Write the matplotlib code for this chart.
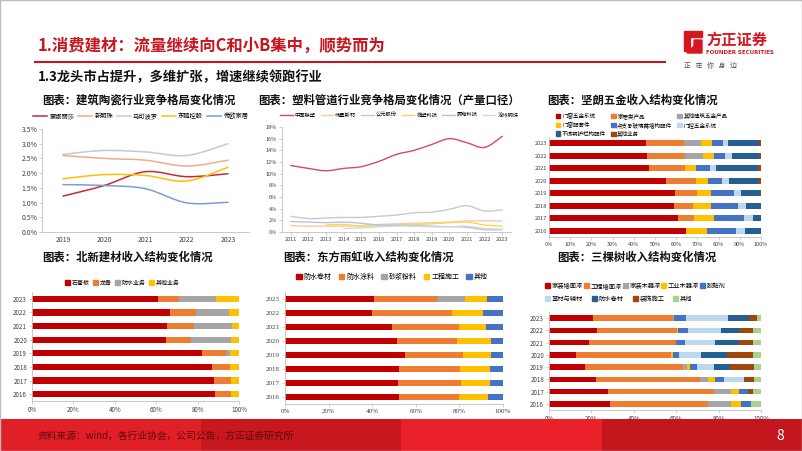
import matplotlib
matplotlib.use('Agg')
import matplotlib.pyplot as plt
from matplotlib.path import Path
from matplotlib.patches import PathPatch, Rectangle, Polygon
from matplotlib.lines import Line2D
from matplotlib.ticker import FuncFormatter

plt.rcParams['font.family'] = ['Noto Sans CJK SC', 'DejaVu Sans']

W, H = 802, 451

# ---------------- data ----------------
years1 = ['2019', '2020', '2021', '2022', '2023']
names1 = ['蒙娜丽莎', '新明珠', '马可波罗', '东鹏控股', '帝欧家居']
mona = [1.22, 1.58, 2.05, 1.88, 1.98]
xinmingzhu = [2.60, 2.50, 2.44, 2.24, 2.44]
makepolo = [2.64, 2.77, 2.72, 2.60, 3.00]
dongpeng = [1.81, 1.95, 1.92, 1.73, 2.20]
diou = [1.61, 1.58, 1.47, 0.99, 1.01]
colors1 = ['#C8283C', '#F2A98A', '#C9C9C9', '#FFC000', '#7F9CD0']

years2 = ['2011', '2012', '2013', '2014', '2015', '2016', '2017',
          '2018', '2019', '2020', '2021', '2022', '2023']
names2 = ['中国联塑', '伟星新材', '公元股份', '雄塑科技', '顾地科技', '沧州明珠']
liansu = [11.4, 10.9, 10.5, 10.9, 11.2, 12.1, 13.3, 14.0, 15.0, 16.0, 15.3, 14.5, 16.4]
weixing = [1.1, 1.0, 1.0, 1.0, 1.1, 1.3, 1.4, 1.5, 1.6, 1.7, 1.9, 1.9, 1.9]
gongyuan = [2.7, 2.3, 2.4, 2.5, 2.5, 2.7, 2.9, 3.3, 3.4, 3.9, 4.5, 3.6, 3.8]
xiongsu = [None, None, 1.2, 1.3, 1.0, 1.1, 1.2, 1.3, 1.4, 1.6, 1.7, 1.2, 1.0]
gudi = [1.8, 1.7, 1.6, 1.7, 1.5, 1.2, 1.2, 1.1, 1.0, 0.9, 0.8, 0.4, 0.4]
mingzhu = [None, None, None, 0.6, 0.7, 0.9, 1.0, 1.0, 0.9, 0.9, 1.0, 0.6, 0.5]
colors2 = ['#D84A5E', '#F8C9A8', '#C9C9C9', '#FFD54F', '#B4C4E4', '#CFD8E6']

bar_years = ['2016', '2017', '2018', '2019', '2020', '2021', '2022', '2023']

# 坚朗五金
jl_names = ['门窗五金系统', '家居类产品', '其他建筑五金产品', '门窗配套件',
            '点支承玻璃幕墙构配件', '门控五金系统', '不锈钢护栏构配件', '其他业务']
jl_door = [64.4, 60.7, 58.8, 59.3, 55.2, 47.3, 46.4, 45.9]
jl_home = [0.0, 7.6, 9.3, 10.7, 14.2, 16.7, 17.8, 18.0]
jl_other_hw = [0.0, 0.0, 0.0, 0.0, 0.0, 0.0, 8.4, 7.7]
jl_parts = [10.0, 9.6, 8.4, 6.3, 5.4, 5.2, 5.0, 5.2]
jl_glass = [13.8, 14.2, 12.5, 10.8, 6.9, 6.8, 5.5, 5.1]
jl_ctrl = [4.1, 4.1, 3.9, 3.6, 3.3, 2.7, 3.3, 2.3]
jl_rail = [7.7, 3.8, 7.1, 8.7, 13.7, 20.0, 12.7, 14.9]
jl_misc = [0.0, 0.0, 0.0, 0.6, 1.3, 1.3, 0.9, 0.9]

# 北新建材
bn_names = ['石膏板', '龙骨', '防水业务', '其他业务']
bn_gypsum = [88.3, 88.1, 86.8, 82.3, 64.8, 65.0, 66.7, 60.9]
bn_keel = [7.7, 8.2, 8.7, 11.4, 11.9, 13.3, 12.6, 10.3]
bn_water = [0.0, 0.0, 0.0, 1.8, 19.3, 18.3, 15.7, 17.5]
bn_other = [4.0, 3.7, 4.5, 4.5, 4.0, 3.4, 5.0, 11.3]

# 东方雨虹
yh_names = ['防水卷材', '防水涂料', '砂浆粉料', '工程施工', '其他']
yh_roll = [52.5, 51.8, 52.1, 55.0, 51.6, 49.0, 39.8, 40.6]
yh_coat = [27.1, 28.8, 28.3, 26.6, 27.4, 30.8, 36.8, 29.2]
yh_mortar = [0.0, 0.0, 0.0, 0.0, 0.0, 0.0, 0.0, 12.7]
yh_build = [13.7, 13.6, 13.6, 13.0, 15.3, 12.5, 14.1, 10.0]
yh_other = [6.7, 5.8, 6.0, 5.4, 5.7, 7.7, 9.3, 7.5]

# 三棵树
sk_names = ['家装墙面漆', '工程墙面漆', '家装木器漆', '工业木器漆', '胶黏剂',
            '基材与辅材', '防水卷材', '装饰施工', '其他']
sk_home_wall = [28.8, 27.6, 22.0, 17.0, 12.9, 18.9, 22.5, 20.9]
sk_proj_wall = [46.0, 50.0, 49.3, 46.1, 44.7, 40.9, 37.8, 37.8]
sk_home_wood = [11.0, 8.2, 3.8, 1.9, 0.0, 0.0, 0.0, 0.3]
sk_ind_wood = [4.6, 3.6, 3.0, 1.5, 1.0, 0.0, 0.5, 0.0]
sk_glue = [5.0, 4.5, 4.6, 3.3, 2.8, 4.3, 5.0, 5.7]
sk_base = [0.0, 0.0, 9.1, 8.2, 10.4, 14.0, 15.1, 19.7]
sk_roll = [0.0, 0.0, 0.0, 7.5, 12.0, 11.3, 8.9, 9.9]
sk_deco = [0.0, 2.5, 5.1, 11.4, 12.3, 6.7, 6.4, 3.6]
sk_other = [4.6, 3.6, 3.1, 3.1, 3.9, 3.9, 3.8, 2.1]

RED, ORANGE, GRAY, YELLOW = '#C00000', '#ED7D31', '#A5A5A5', '#FFC000'
BLUE, LBLUE, DBLUE, BROWN, GREEN = '#4472C4', '#BDD7EE', '#255E91', '#9E480E', '#A9D18E'
AXC = '#BFBFBF'


def box(x0, y0, x1, y1):
    return [x0 / W, 1 - y1 / H, (x1 - x0) / W, (y1 - y0) / H]


def fpt(x, y):
    return (x / W, 1 - y / H)


def smooth_line(ax, xs, ys, color, lw=1.2):
    pts = [(x, y) for x, y in zip(xs, ys) if y is not None]
    n = len(pts)
    verts = [pts[0]]
    codes = [Path.MOVETO]
    for i in range(n - 1):
        p0 = pts[max(i - 1, 0)]
        p1 = pts[i]
        p2 = pts[i + 1]
        p3 = pts[min(i + 2, n - 1)]
        c1 = (p1[0] + (p2[0] - p0[0]) / 6, p1[1] + (p2[1] - p0[1]) / 6)
        c2 = (p2[0] - (p3[0] - p1[0]) / 6, p2[1] - (p3[1] - p1[1]) / 6)
        verts += [c1, c2, p2]
        codes += [Path.CURVE4] * 3
    ax.add_patch(PathPatch(Path(verts, codes), fill=False, edgecolor=color,
                           lw=lw, capstyle='round'))


def style_axes(ax, size):
    for s in ['top', 'right']:
        ax.spines[s].set_visible(False)
    for s in ['left', 'bottom']:
        ax.spines[s].set_color(AXC)
        ax.spines[s].set_linewidth(0.6)
    ax.tick_params(length=2, width=0.5, color=AXC, labelsize=size,
                   labelcolor='#404040', pad=1.5)


fig = plt.figure(figsize=(W / 100, H / 100), dpi=100)
fig.patch.set_facecolor('white')

# ---------------- header ----------------
fig.text(*fpt(38, 46), '1.消费建材：流量继续向C和小B集中，顺势而为', color='#C8161E',
         fontsize=11.8, fontweight='bold', va='center', ha='left')
fig.add_artist(Line2D([35 / W, 665 / W], [1 - 62 / H, 1 - 62 / H], color='#C8161E', lw=1.5))
fig.text(*fpt(38, 77), '1.3龙头市占提升，多维扩张，增速继续领跑行业', color='#111111',
         fontsize=9.5, fontweight='bold', va='center', ha='left')

# logo
fig.add_artist(Polygon([fpt(684, 31), fpt(702, 31), fpt(702, 37), fpt(690, 37),
                        fpt(690, 51), fpt(684, 51)], closed=True, color='#D7171F',
                       transform=fig.transFigure))
fig.add_artist(Polygon([fpt(694, 40), fpt(702, 40), fpt(702, 53), fpt(687, 53),
                        fpt(694, 46)], closed=True, color='#D7171F',
                       transform=fig.transFigure))
fig.text(*fpt(706, 40), '方正证券', color='#D7171F', fontsize=11, fontweight='bold',
         va='center', ha='left')
fig.text(*fpt(706, 52), 'FOUNDER SECURITIES', color='#D7171F', fontsize=4, fontweight='bold',
         va='center', ha='left', family='DejaVu Sans')
fig.text(*fpt(684, 66), '正   在   你   身   边', color='#555555', fontsize=5,
         va='center', ha='left')

# chart titles
titles = [(42, 100, '图表：建筑陶瓷行业竞争格局变化情况'),
          (258, 100, '图表：塑料管道行业竞争格局变化情况（产量口径）'),
          (547, 100, '图表：坚朗五金收入结构变化情况'),
          (42, 257, '图表：北新建材收入结构变化情况'),
          (283, 257, '图表：东方雨虹收入结构变化情况'),
          (557, 257, '图表：三棵树收入结构变化情况')]
for x, y, t in titles:
    fig.text(*fpt(x, y), t, fontsize=8.2, fontweight='bold', color='#111111',
             va='center', ha='left')

# ---------------- chart 1 ----------------
ax1 = fig.add_axes(box(42.4, 129, 248.6, 232))
xs1 = list(range(len(years1)))
for vals, c in zip([mona, xinmingzhu, makepolo, dongpeng, diou], colors1):
    smooth_line(ax1, xs1, vals, c, lw=1.1)
ax1.set_xlim(-0.5, len(years1) - 0.5)
ax1.set_ylim(0, 3.5)
ax1.set_xticks(xs1)
ax1.set_xticklabels(years1)
ax1.set_yticks([0, 0.5, 1.0, 1.5, 2.0, 2.5, 3.0, 3.5])
ax1.yaxis.set_major_formatter(FuncFormatter(lambda v, p: f'{v:.1f}%'))
style_axes(ax1, 5)
ax1.tick_params(axis='x', length=0, pad=3)
h1 = [Line2D([], [], color=c, lw=1.1) for c in colors1]
fig.legend(h1, names1, loc='center left', bbox_to_anchor=fpt(33, 116), ncol=5,
           frameon=False, fontsize=4.5, handlelength=2.2, columnspacing=0.6,
           handletextpad=0.4, borderaxespad=0, borderpad=0)

# ---------------- chart 2 ----------------
ax2 = fig.add_axes(box(282, 127, 511, 232))
xs2 = list(range(len(years2)))
for vals, c in zip([liansu, weixing, gongyuan, xiongsu, gudi, mingzhu], colors2):
    smooth_line(ax2, xs2, vals, c, lw=1.0)
ax2.set_xlim(-0.5, len(years2) - 0.5)
ax2.set_ylim(0, 18)
ax2.set_xticks(xs2)
ax2.set_xticklabels(years2)
ax2.set_yticks(range(0, 19, 2))
ax2.yaxis.set_major_formatter(FuncFormatter(lambda v, p: f'{v:.0f}%'))
style_axes(ax2, 4)
h2 = [Line2D([], [], color=c, lw=1.0) for c in colors2]
fig.legend(h2, names2, loc='center left', bbox_to_anchor=fpt(280, 115), ncol=6,
           frameon=False, fontsize=3.8, handlelength=2.4, columnspacing=0.9,
           handletextpad=0.4, borderaxespad=0, borderpad=0)


def stacked(ax, series, colors, height=0.45):
    ys = list(range(len(bar_years)))
    left = [0.0] * len(bar_years)
    for vals, c in zip(series, colors):
        ax.barh(ys, vals, left=left, height=height, color=c, linewidth=0)
        left = [a + b for a, b in zip(left, vals)]
    ax.set_ylim(-0.5, len(bar_years) - 0.5)
    ax.set_xlim(0, 100)
    ax.set_yticks(ys)
    ax.set_yticklabels(bar_years)


def square_legend(names, colors, anchor, ncol, size, spacing=0.8):
    hs = [Rectangle((0, 0), 1, 1, color=c) for c in colors]
    fig.legend(hs, names, loc='center left', bbox_to_anchor=anchor, ncol=ncol,
               frameon=False, fontsize=size, handlelength=0.8, handleheight=0.8,
               handletextpad=0.3, columnspacing=spacing, borderaxespad=0, borderpad=0,
               labelspacing=0.6)


# ---------------- chart 3 ----------------
ax3 = fig.add_axes(box(549, 137, 761, 237))
jl_cols = [RED, ORANGE, GRAY, YELLOW, BLUE, LBLUE, DBLUE, BROWN]
stacked(ax3, [jl_door, jl_home, jl_other_hw, jl_parts, jl_glass, jl_ctrl, jl_rail, jl_misc],
        jl_cols, height=0.48)
ax3.set_xticks(range(0, 101, 10))
ax3.xaxis.set_major_formatter(FuncFormatter(lambda v, p: f'{v:.0f}%'))
style_axes(ax3, 4)
ax3.tick_params(axis='y', length=0)
order = [0, 3, 6, 1, 4, 7, 2, 5]
square_legend([jl_names[i] for i in order], [jl_cols[i] for i in order],
              fpt(556, 125), 3, 4.0, spacing=0.9)

# ---------------- chart 4 ----------------
ax4 = fig.add_axes(box(32, 292, 239, 401))
bn_cols = [RED, ORANGE, GRAY, YELLOW]
stacked(ax4, [bn_gypsum, bn_keel, bn_water, bn_other], bn_cols, height=0.45)
ax4.set_xticks(range(0, 101, 20))
ax4.xaxis.set_major_formatter(FuncFormatter(lambda v, p: f'{v:.0f}%'))
style_axes(ax4, 4.5)
square_legend(bn_names, bn_cols, fpt(65, 283), 4, 4.3, spacing=0.6)

# ---------------- chart 5 ----------------
ax5 = fig.add_axes(box(285, 292, 503, 404))
yh_cols = [RED, ORANGE, GRAY, YELLOW, BLUE]
stacked(ax5, [yh_roll, yh_coat, yh_mortar, yh_build, yh_other], yh_cols, height=0.45)
ax5.set_xticks(range(0, 101, 20))
ax5.xaxis.set_major_formatter(FuncFormatter(lambda v, p: f'{v:.0f}%'))
style_axes(ax5, 5)
for lab in ax5.get_yticklabels() + ax5.get_xticklabels():
    lab.set_family('Liberation Serif')
square_legend(yh_names, yh_cols, fpt(296, 277), 5, 5.0, spacing=1.0)

# ---------------- chart 6 ----------------
ax6 = fig.add_axes(box(549, 312, 761, 410))
sk_cols = [RED, ORANGE, GRAY, YELLOW, BLUE, LBLUE, DBLUE, BROWN, GREEN]
stacked(ax6, [sk_home_wall, sk_proj_wall, sk_home_wood, sk_ind_wood, sk_glue,
              sk_base, sk_roll, sk_deco, sk_other], sk_cols, height=0.45)
ax6.set_xticks(range(0, 101, 20))
ax6.xaxis.set_major_formatter(FuncFormatter(lambda v, p: f'{v:.0f}%'))
style_axes(ax6, 4.5)
square_legend(sk_names[:5], sk_cols[:5], fpt(545, 286), 5, 4.5, spacing=0.1)
square_legend(sk_names[5:], sk_cols[5:], fpt(545, 299), 4, 4.5, spacing=1.4)

# ---------------- footer ----------------
seg_cols = ['#E11F27', '#C8171E', '#EA2129', '#C3161D']
for i, c in enumerate(seg_cols):
    fig.add_artist(Rectangle(fpt(i * W / 4, 451), 0.25, 32 / H, color=c,
                             transform=fig.transFigure, lw=0))
fig.text(*fpt(38, 436), '资料来源：wind，各行业协会，公司公告，方正证券研究所', color='#5A0A0A',
         fontsize=7, style='italic', va='center', ha='left')
fig.text(*fpt(780, 436), '8', color='white', fontsize=10, va='center', ha='center')

# slide border
fig.add_artist(Rectangle((0, 0), 1, 1, fill=False, edgecolor='#BBBBBB', lw=1,
                         transform=fig.transFigure))

fig.savefig('out.png', dpi=100, facecolor='white')
